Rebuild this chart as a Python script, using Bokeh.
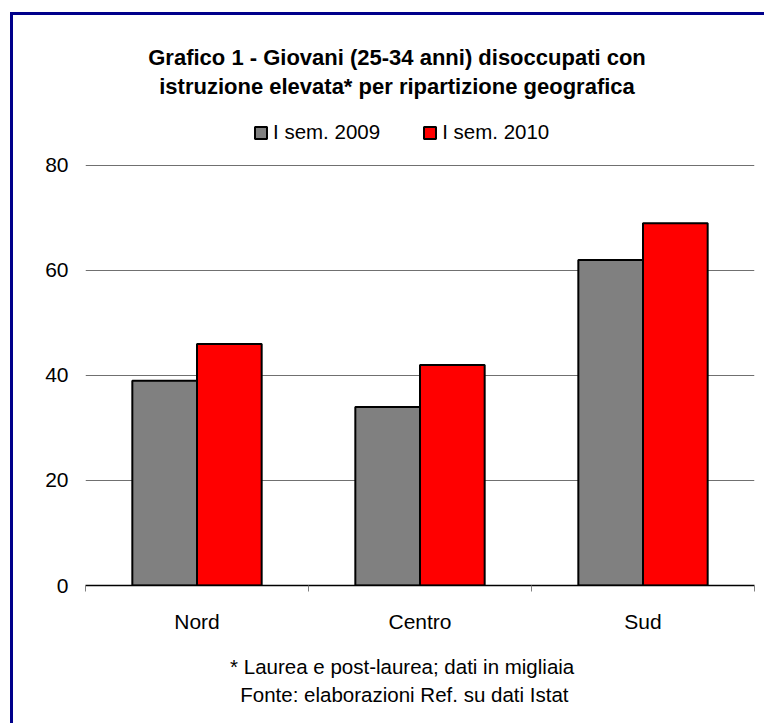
from bokeh.plotting import figure
from bokeh.layouts import column
from bokeh.models import (Range1d, LinearAxis, FixedTicker,
                          Legend, LegendItem, Label, ColumnDataSource)
from bokeh.transform import dodge
from bokeh.embed import file_html
from bokeh.resources import INLINE

categories = ["Nord", "Centro", "Sud"]
sem_2009 = [39, 34, 62]
sem_2010 = [46, 42, 69]
series_labels = ["I sem. 2009", "I sem. 2010"]
y_ticks = [0, 20, 40, 60, 80]
title_lines = ["Grafico 1 - Giovani (25-34 anni) disoccupati con",
               "istruzione elevata* per ripartizione geografica"]
note_lines = ["* Laurea e post-laurea; dati in migliaia",
              "Fonte: elaborazioni Ref. su dati Istat"]

FONT = "Liberation Sans"
W = 751
H1, H2 = 630, 78
n = len(categories)
centers = [i + 0.5 for i in range(n)]
bw = 0.29

src = ColumnDataSource(dict(xc=centers, v2009=sem_2009, v2010=sem_2010))

# main chart: the frame reaches the top of the canvas so the title and legend live inside it
p = figure(width=W, height=H1, x_range=Range1d(0, n), y_range=Range1d(0, 108.571),
           output_backend="svg", toolbar_location=None, x_axis_location=None,
           min_border_left=72, min_border_right=10, min_border_top=0, min_border_bottom=60)
p.outline_line_color = None
p.background_fill_color = "white"
p.border_fill_color = "white"

# y axis
p.yaxis.ticker = FixedTicker(ticks=y_ticks)
p.yaxis.axis_line_color = None
p.yaxis.major_tick_line_color = None
p.yaxis.minor_tick_line_color = None
p.yaxis.major_label_standoff = 11
p.yaxis.major_label_text_font = FONT
p.yaxis.major_label_text_font_size = "21px"
p.yaxis.major_label_text_color = "black"

p.xgrid.visible = False
p.ygrid.ticker = FixedTicker(ticks=y_ticks)
p.ygrid.grid_line_color = "#707070"
p.ygrid.grid_line_width = 1

# x axis: labels at category centres, tick marks at category boundaries
x_axis = LinearAxis(ticker=FixedTicker(ticks=centers, minor_ticks=list(range(n + 1))),
                    major_label_overrides={c: lab for c, lab in zip(centers, categories)},
                    axis_line_color="black", axis_line_width=1.5,
                    major_tick_line_color=None, major_tick_in=0, major_tick_out=0,
                    minor_tick_line_color="#808080", minor_tick_in=0, minor_tick_out=6,
                    major_label_standoff=18, major_label_text_font=FONT,
                    major_label_text_font_size="21px", major_label_text_color="black")
p.add_layout(x_axis, "below")

r1 = p.vbar(x=dodge("xc", -bw / 2), top="v2009", width=bw, source=src,
            fill_color="#808080", line_color="black", line_width=2)
r2 = p.vbar(x=dodge("xc", bw / 2), top="v2010", width=bw, source=src,
            fill_color="#FF0000", line_color="black", line_width=2)

legend = Legend(items=[LegendItem(label=series_labels[0], renderers=[r1]),
                       LegendItem(label=series_labels[1], renderers=[r2])],
                orientation="horizontal", location=(168, 441),
                glyph_width=15, glyph_height=15, spacing=42, label_standoff=5,
                padding=0, margin=0, border_line_color=None, background_fill_alpha=0,
                label_text_font=FONT, label_text_font_size="20.5px",
                label_text_color="black", label_height=15)
p.add_layout(legend, "center")

for txt, yv in zip(title_lines, [100.571, 95.05]):
    p.add_layout(Label(x=1.397, y=yv, text=txt, text_align="center", text_baseline="middle",
                       text_font=FONT, text_font_size="22px", text_font_style="bold",
                       text_color="black"))

# footer notes
p2 = figure(width=W, height=H2, x_range=Range1d(0, n), y_range=Range1d(0, H2),
            output_backend="svg", toolbar_location=None,
            x_axis_location=None, y_axis_location=None,
            min_border_left=72, min_border_right=10, min_border_top=0, min_border_bottom=0)
p2.outline_line_color = None
p2.grid.visible = False
p2.background_fill_color = "white"
p2.border_fill_color = "white"
for txt, xv, yv in zip(note_lines, [1.42, 1.43], [57, 29]):
    p2.add_layout(Label(x=xv, y=yv, text=txt, text_align="center", text_baseline="middle",
                        text_font=FONT, text_font_size="20.5px", text_color="black"))

layout = column(p, p2, spacing=0,
                styles={"margin-left": "10px", "margin-top": "12px",
                        "border-left": "3px solid #00008B", "border-top": "3px solid #00008B"})

open("out.html", "w").write(file_html(layout, INLINE))
